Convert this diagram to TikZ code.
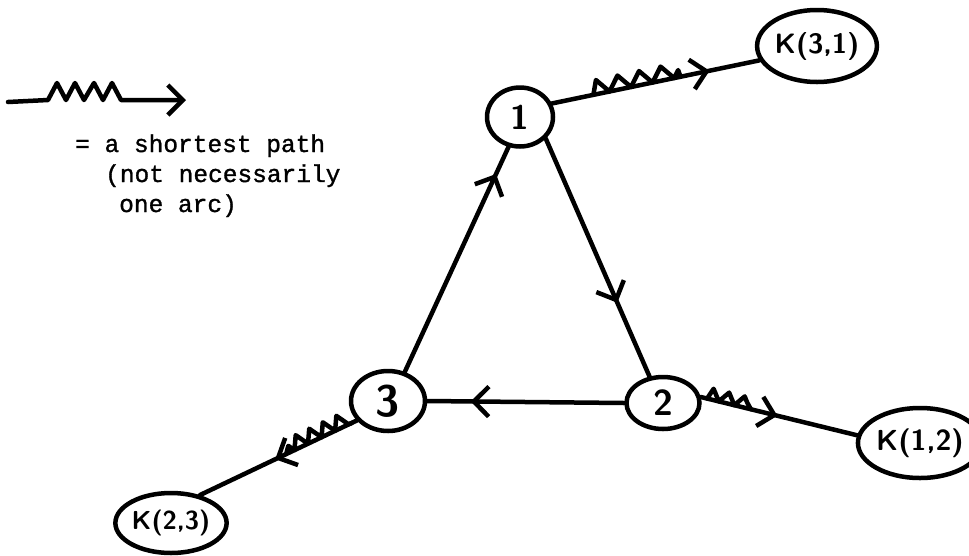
\documentclass[tikz,border=0pt]{standalone}
\usepackage{fontspec}
\setmonofont{Liberation Mono}[FakeBold=1.2]
\usetikzlibrary{shapes.geometric,arrows.meta,decorations.pathmorphing,decorations.markings,calc}
\begin{document}
\begin{tikzpicture}[x=1pt,y=-1pt,
  ink/.style={line width=4.5pt, line cap=round, line join=round},
  vert/.style={ellipse, draw, line width=4.5pt, inner sep=0pt},
  mybarb/.tip={Straight Barb[length=15pt,width=30pt]},
  midarrow/.style={postaction={decorate,decoration={markings,mark=at position #1 with {\arrow{mybarb}}}}},
  zz/.style n args={3}{decorate, decoration={zigzag, segment length=#1, amplitude=#2, raise=#3}},
  legtext/.style={anchor=base west, inner sep=0pt, font=\ttfamily\fontsize{24.5}{30}\selectfont},
  lab/.style={font=\sffamily\bfseries\fontsize{#1}{#1}\selectfont}
]
\useasboundingbox (0,0) rectangle (969,555);

% legend
\coordinate (l0) at (8,102);
\coordinate (l9) at (186,100);
\draw[ink,-{mybarb}] (l0) -- (48,100) -- (57,83) -- (66,100) -- (75,83) -- (84,100) -- (94,83) -- (103,100) -- (112,83) -- (121,100) -- (l9);
\node[legtext] (t1) at (75,152) {= a shortest path};
\node[legtext] (t2) at (105,182) {(not necessarily};
\node[legtext] (t3) at (119,212) {one arc)};

% vertices
\node[vert, minimum width=66pt, minimum height=59pt, lab=34] (n1) at (520,117) {1};
\node[vert, minimum width=73pt, minimum height=52pt, lab=36] (n2) at (663,403) {2};
\node[vert, minimum width=74pt, minimum height=60pt, lab=44] (n3) at (388,401) {3};
\node[vert, minimum width=100pt, minimum height=72pt, lab=28] (k31) at (817,46) {K(3,1)};
\node[vert, minimum width=98pt, minimum height=70pt, lab=29] (k12) at (920,443) {K(1,2)};
\node[vert, minimum width=88pt, minimum height=60pt, lab=26] (k23) at (171,523) {K(2,3)};

% triangle arcs
\draw[ink, midarrow=0.88] (n3.60) -- (n1.249);
\draw[ink, midarrow=0.69] (n1.320) -- (n2.117);
\draw[ink, midarrow=0.78] (n2.180) -- (n3.0);

% shortest paths
\draw[ink, midarrow=0.76] (n1.23) -- (k31.194);
\draw[ink, zz={22pt}{7pt}{7pt}] ($(n1.23)!0.2!(k31.194)$) -- ($(n1.23)!0.62!(k31.194)$);

\draw[ink, midarrow=0.49] (n2.9) -- (k12.173);
\draw[ink, zz={16pt}{5.5pt}{5.5pt}] ($(n2.9)!0.04!(k12.173)$) -- ($(n2.9)!0.32!(k12.173)$);

\draw[ink, midarrow=0.52] (n3.212) -- (k23.44);
\draw[ink, zz={15pt}{6.5pt}{-6.5pt}] ($(n3.212)!0.03!(k23.44)$) -- ($(n3.212)!0.45!(k23.44)$);
\end{tikzpicture}
\end{document}
